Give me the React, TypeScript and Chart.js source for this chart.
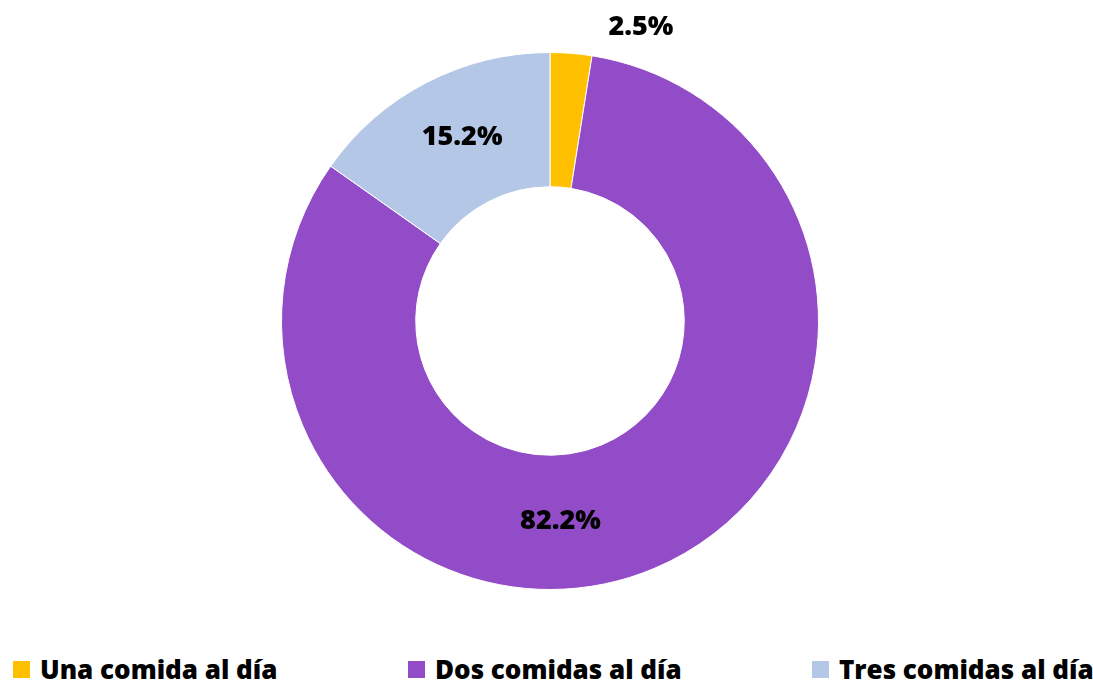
import React, { useEffect, useRef } from "react";
import { Chart, registerables } from "chart.js";

Chart.register(...registerables);

const categories = ["Una comida al día", "Dos comidas al día", "Tres comidas al día"];
const values = [2.5, 82.2, 15.2];
const valueLabels = ["2.5%", "82.2%", "15.2%"];
const colors = ["#FFC000", "#934CC7", "#B4C7E7"];

// label placement (style): angle from top clockwise in degrees, radius as fraction of outer radius
const labelPlacement = [
  { angle: 17.2, r: 1.145 },
  { angle: 177, r: 0.747 },
  { angle: 334.4, r: 0.758 },
];

const FONT = "'Open Sans', Lato, sans-serif";

const labelPlugin = {
  id: "pctLabels",
  afterDatasetsDraw(chart: any) {
    const meta = chart.getDatasetMeta(0);
    const ctx = chart.ctx;
    ctx.save();
    ctx.font = `800 27px ${FONT}`;
    ctx.fillStyle = "#000";
    ctx.textAlign = "center";
    ctx.textBaseline = "middle";
    meta.data.forEach((arc: any, i: number) => {
      const p = labelPlacement[i];
      const a = (p.angle * Math.PI) / 180;
      const R = arc.outerRadius * p.r;
      const x = arc.x + R * Math.sin(a);
      const y = arc.y - R * Math.cos(a);
      ctx.fillText(valueLabels[i], x, y);
    });
    ctx.restore();
  },
};

export default function App() {
  const ref = useRef<HTMLCanvasElement>(null);
  useEffect(() => {
    if (!ref.current) return;
    const chart = new Chart(ref.current, {
      type: "doughnut",
      data: {
        labels: categories,
        datasets: [
          {
            data: values,
            backgroundColor: colors,
            borderColor: "#ffffff",
            borderWidth: 1,
          },
        ],
      },
      options: {
        responsive: false,
        animation: false,
        cutout: "50%",
        layout: { padding: { left: 7, top: 52, bottom: 60, right: 0 } },
        plugins: {
          legend: { display: false },
          tooltip: { enabled: false },
        },
      },
      plugins: [labelPlugin],
    });
    return () => chart.destroy();
  }, []);

  const legendLeft = [13, 408, 812];
  return (
    <div style={{ position: "absolute", left: 0, top: 0, width: 1093, height: 682, background: "#fff" }}>
      <canvas ref={ref} width={1093} height={650} style={{ display: "block" }} />
      {categories.map((c, i) => (
        <div
          key={c}
          style={{
            position: "absolute",
            left: legendLeft[i],
            top: 653,
            height: 32,
            display: "flex",
            alignItems: "center",
            fontFamily: FONT,
            fontWeight: 800,
            fontSize: 26,
            color: "#000",
            whiteSpace: "nowrap",
          }}
        >
          <span style={{ display: "inline-block", width: 17, height: 17, background: colors[i], marginRight: 10 }} />
          <span>{c}</span>
        </div>
      ))}
    </div>
  );
}
